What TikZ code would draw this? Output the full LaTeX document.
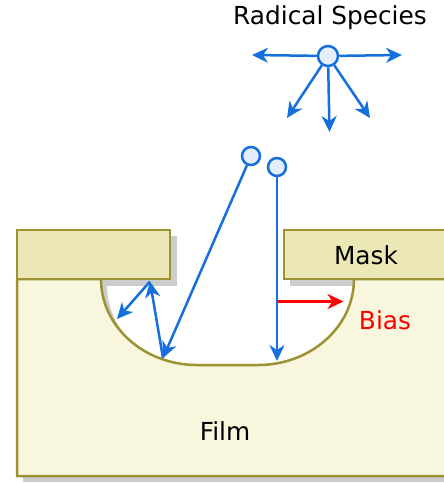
\documentclass[tikz,border=0pt]{standalone}
\usepackage{xcolor}
\usepackage{fontspec}
\setmainfont{DejaVu Sans}
\usetikzlibrary{arrows.meta, positioning, calc}

\definecolor{filmfill}{HTML}{F8F6DC}
\definecolor{maskfill}{HTML}{EBE8B5}
\definecolor{etchline}{HTML}{9C9133}
\definecolor{shadowgray}{HTML}{CCCCCC}
\definecolor{rayblue}{HTML}{1570DD}
\definecolor{radfill}{HTML}{E3EDFB}

\def\filmpath{(17,279) -- (101,279) .. controls (101,326.5) and (144,365) .. (197,365)
  -- (258,365) .. controls (311,365) and (354,326.5) .. (354,279)
  -- (447,279) -- (447,476) -- (17,476) -- cycle}

\begin{document}
\begin{tikzpicture}[x=1pt, y=-1pt,
    ray/.style={rayblue, line width=2.5pt, -{Stealth[length=16pt, width=15pt, inset=5pt]}},
    radical/.style={circle, draw=rayblue, fill=radfill, line width=2.5pt, inner sep=0pt, minimum size=18pt},
    masknode/.style={draw=etchline, fill=maskfill, line width=2.5pt, inner sep=0pt, outer sep=0pt,
        anchor=north west, minimum height=49pt},
    textlabel/.style={font=\fontsize{24.8}{28}\selectfont, text=black, inner sep=0pt}]
\useasboundingbox (0,0) rectangle (444,483);

% Shadows
\fill[shadowgray, shift={(6,6)}] \filmpath;
\fill[shadowgray] (23,236) rectangle (177,286);
\fill[shadowgray] (290,236) rectangle (447,286);

% Film and mask
\draw[fill=filmfill, draw=etchline, line width=2.5pt] \filmpath;
\node[masknode, minimum width=153pt] (maskleft) at (17,230) {};
\node[masknode, minimum width=163pt] (maskright) at (284,230) {};

\node[textlabel] (masklabel) at (366,255) {Mask};
\node[textlabel] (filmlabel) at (225,431) {Film};
\node[textlabel, text=red] (biaslabel) at (385,320) {Bias};
\node[textlabel] (radicallabel) at (330,18) {Radical Species};

% Radical source
\node[radical, minimum size=20pt] (source) at (328,56) {};
\foreach \name/\px/\py in {west/252/55, east/402/55, sw/287/118, south/329.5/132, se/370/118} {
    \coordinate (\name) at (\px,\py);
    \draw[ray] (source) -- (\name);
}

% Incoming radicals
\node[radical] (radA) at (251,156) {};
\node[radical] (radB) at (277,167) {};
\coordinate (hitA) at (163,358);
\coordinate (hitB) at (150,281.5);
\coordinate (hitC) at (117,319);
\coordinate (hitD) at (277,361);
\draw[ray] (radA) -- (hitA);
\draw[ray] (hitA) -- (hitB);
\draw[ray] (hitB) -- (hitC);
\draw[ray] (radB) -- (hitD);

% Bias
\coordinate (biasstart) at (278,301.5);
\coordinate (biasend) at (343.5,301.5);
\draw[red, line width=2.5pt, -{Stealth[length=16pt, width=15pt, inset=5pt]}] (biasstart) -- (biasend);
\end{tikzpicture}
\end{document}
